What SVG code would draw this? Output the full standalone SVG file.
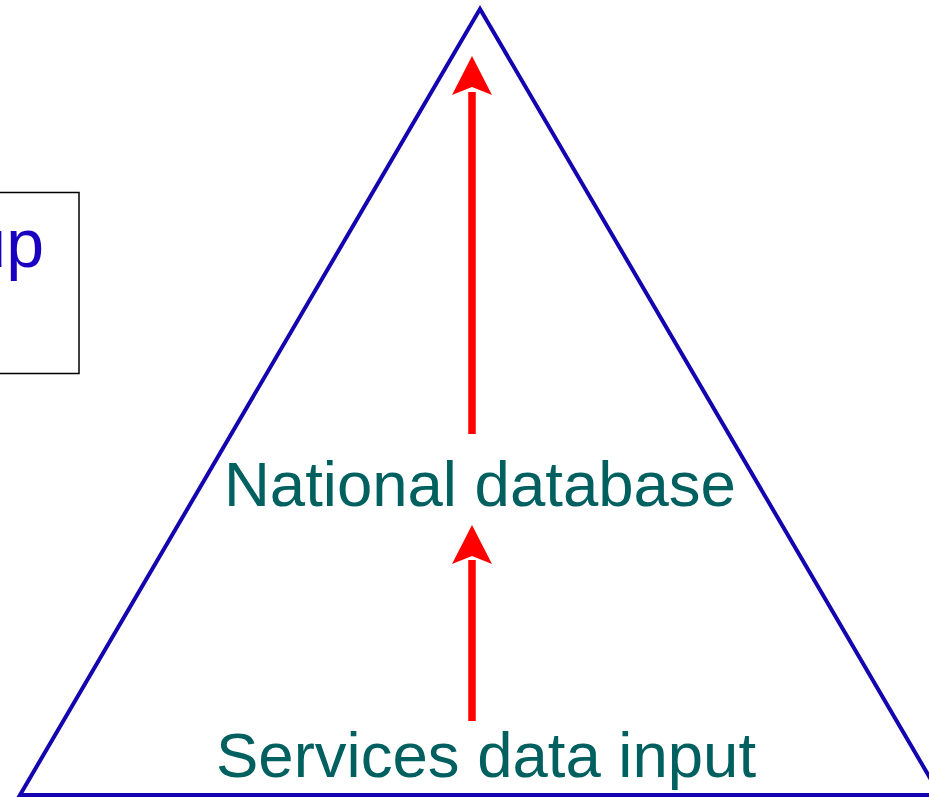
<svg xmlns="http://www.w3.org/2000/svg" width="929" height="797" viewBox="0 0 929 797">
<style>
.lbl{font-family:"Liberation Sans",Arial,sans-serif;font-size:63.5px;fill:#006060}
.arrow{stroke:#ff0000;stroke-width:7.5;fill:none}
.head{fill:#ff0000}
</style>
<rect width="929" height="797" fill="#ffffff"/>
<g id="box">
<rect x="-20" y="192.5" width="99" height="181" fill="none" stroke="#000000" stroke-width="1.5"/>
<text x="44" y="267" text-anchor="end" style="font-family:'Liberation Sans',Arial,sans-serif;font-size:68px;fill:#1a00c0">up</text>
</g>
<g id="triangle">
<polygon points="480,9 20,795 940,795" fill="none" stroke="#1404b0" stroke-width="4"/>
</g>
<g id="national">
<text class="lbl" x="224" y="505.5">National database</text>
</g>
<g id="services">
<text class="lbl" x="216" y="776.5">Services data input</text>
</g>
<g id="connectors">
<line class="arrow" x1="472" y1="434" x2="472" y2="92"/>
<polygon class="head" points="472,56 452,95 472,87 492,95"/>
<line class="arrow" x1="472" y1="721" x2="472" y2="560"/>
<polygon class="head" points="472,525 452,564 472,556 492,564"/>
</g>
</svg>
